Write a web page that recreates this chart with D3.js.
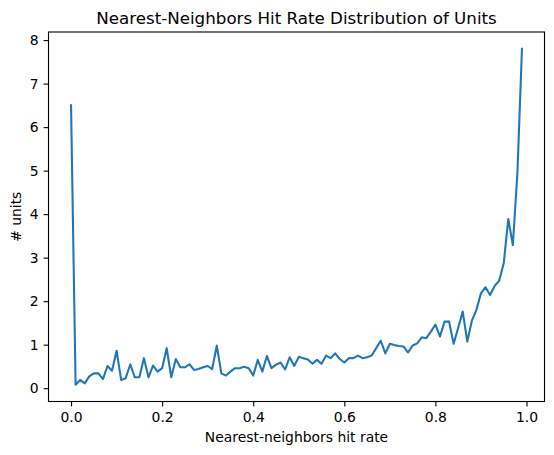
<!DOCTYPE html>
<html>
<head>
<meta charset="utf-8">
<script src="https://cdnjs.cloudflare.com/ajax/libs/d3/7.8.5/d3.min.js"></script>
<style>
  body { margin: 0; background: #fff; }
  svg { display: block; font-family: "DejaVu Sans", sans-serif; }
</style>
</head>
<body>
<div id="chart"></div>
<script>
// hit rate bins (x) and number of units per bin (y)
const hitRate = [
  0.00, 0.01, 0.02, 0.03, 0.04, 0.05, 0.06, 0.07, 0.08, 0.09,
  0.10, 0.11, 0.12, 0.13, 0.14, 0.15, 0.16, 0.17, 0.18, 0.19,
  0.20, 0.21, 0.22, 0.23, 0.24, 0.25, 0.26, 0.27, 0.28, 0.29,
  0.30, 0.31, 0.32, 0.33, 0.34, 0.35, 0.36, 0.37, 0.38, 0.39,
  0.40, 0.41, 0.42, 0.43, 0.44, 0.45, 0.46, 0.47, 0.48, 0.49,
  0.50, 0.51, 0.52, 0.53, 0.54, 0.55, 0.56, 0.57, 0.58, 0.59,
  0.60, 0.61, 0.62, 0.63, 0.64, 0.65, 0.66, 0.67, 0.68, 0.69,
  0.70, 0.71, 0.72, 0.73, 0.74, 0.75, 0.76, 0.77, 0.78, 0.79,
  0.80, 0.81, 0.82, 0.83, 0.84, 0.85, 0.86, 0.87, 0.88, 0.89,
  0.90, 0.91, 0.92, 0.93, 0.94, 0.95, 0.96, 0.97, 0.98, 0.99
];
const units = [
  6.50, 0.08, 0.19, 0.11, 0.27, 0.34, 0.34, 0.21, 0.51, 0.40,
  0.86, 0.19, 0.23, 0.55, 0.25, 0.25, 0.69, 0.25, 0.52, 0.38,
  0.46, 0.92, 0.25, 0.67, 0.48, 0.48, 0.55, 0.42, 0.44, 0.48,
  0.51, 0.44, 0.98, 0.34, 0.29, 0.38, 0.46, 0.46, 0.49, 0.46,
  0.29, 0.65, 0.38, 0.74, 0.46, 0.54, 0.59, 0.43, 0.71, 0.51,
  0.72, 0.69, 0.66, 0.56, 0.65, 0.56, 0.75, 0.69, 0.80, 0.67,
  0.59, 0.69, 0.69, 0.75, 0.69, 0.71, 0.75, 0.92, 1.09, 0.80,
  1.02, 0.99, 0.97, 0.96, 0.82, 0.98, 1.03, 1.17, 1.15, 1.30,
  1.46, 1.19, 1.53, 1.53, 1.02, 1.39, 1.76, 1.07, 1.55, 1.80,
  2.18, 2.32, 2.14, 2.35, 2.47, 2.87, 3.89, 3.29, 4.94, 7.80
];
const xTicks = [0, 0.2, 0.4, 0.6, 0.8, 1.0];
const yTicks = [0, 1, 2, 3, 4, 5, 6, 7, 8];

const width = 554;
const height = 455;
const margin = { top: 32, right: 9.5, bottom: 53.5, left: 48.5 };
const fontSize = 13.9; // 10pt at 100 dpi

const svg = d3
  .select("#chart")
  .append("svg")
  .attr("width", width)
  .attr("height", height);

// matplotlib style 5% margins around the data
const xPad = (d3.max(hitRate) - d3.min(hitRate)) * 0.05;
const yPad = (d3.max(units) - d3.min(units)) * 0.05;

const xScale = d3.scaleLinear()
  .domain([d3.min(hitRate) - xPad, d3.max(hitRate) + xPad])
  .range([margin.left, width - margin.right]);

const yScale = d3.scaleLinear()
  .domain([d3.min(units) - yPad, d3.max(units) + yPad])
  .range([height - margin.bottom, margin.top]);

const xAxis = d3.axisBottom(xScale)
  .tickValues(xTicks)
  .tickFormat(d3.format(".1f"))
  .tickSize(4.9)
  .tickPadding(5.4);

const yAxis = d3.axisLeft(yScale)
  .tickValues(yTicks)
  .tickFormat(d3.format("d"))
  .tickSize(4.9)
  .tickPadding(4.9);

const line = d3.line()
  .x((d, i) => xScale(hitRate[i]))
  .y((d) => yScale(d));

svg
  .append("path")
  .datum(units)
  .attr("fill", "none")
  .attr("stroke", "#1f77b4")
  .attr("stroke-width", 2.08)
  .attr("stroke-linejoin", "round")
  .attr("stroke-linecap", "square")
  .attr("d", line);

// axes frame
svg
  .append("rect")
  .attr("x", margin.left)
  .attr("y", margin.top)
  .attr("width", width - margin.left - margin.right)
  .attr("height", height - margin.top - margin.bottom)
  .attr("fill", "none")
  .attr("stroke", "#000")
  .attr("stroke-width", 1.1);

const gx = svg
  .append("g")
  .attr("transform", "translate(0," + (height - margin.bottom) + ")")
  .call(xAxis);

const gy = svg
  .append("g")
  .attr("transform", "translate(" + margin.left + ",0)")
  .call(yAxis);

[gx, gy].forEach((g) => {
  g.select(".domain").remove();
  g.selectAll(".tick line").attr("stroke", "#000").attr("stroke-width", 1.1);
  g.selectAll(".tick text")
    .attr("fill", "#000")
    .style("font-size", fontSize + "px")
    .style("font-family", "'DejaVu Sans', sans-serif");
});

svg
  .append("text")
  .attr("x", (margin.left + width - margin.right) / 2)
  .attr("y", 24)
  .style("text-anchor", "middle")
  .style("font-size", "16.7px")
  .text("Nearest-Neighbors Hit Rate Distribution of Units");

svg
  .append("text")
  .attr("x", (margin.left + width - margin.right) / 2)
  .attr("y", 441.5)
  .style("text-anchor", "middle")
  .style("font-size", fontSize + "px")
  .text("Nearest-neighbors hit rate");

svg
  .append("text")
  .attr("transform", "rotate(-90)")
  .attr("x", -(margin.top + height - margin.bottom) / 2)
  .attr("y", 20.5)
  .style("text-anchor", "middle")
  .style("font-size", fontSize + "px")
  .text("# units");
</script>
</body>
</html>
